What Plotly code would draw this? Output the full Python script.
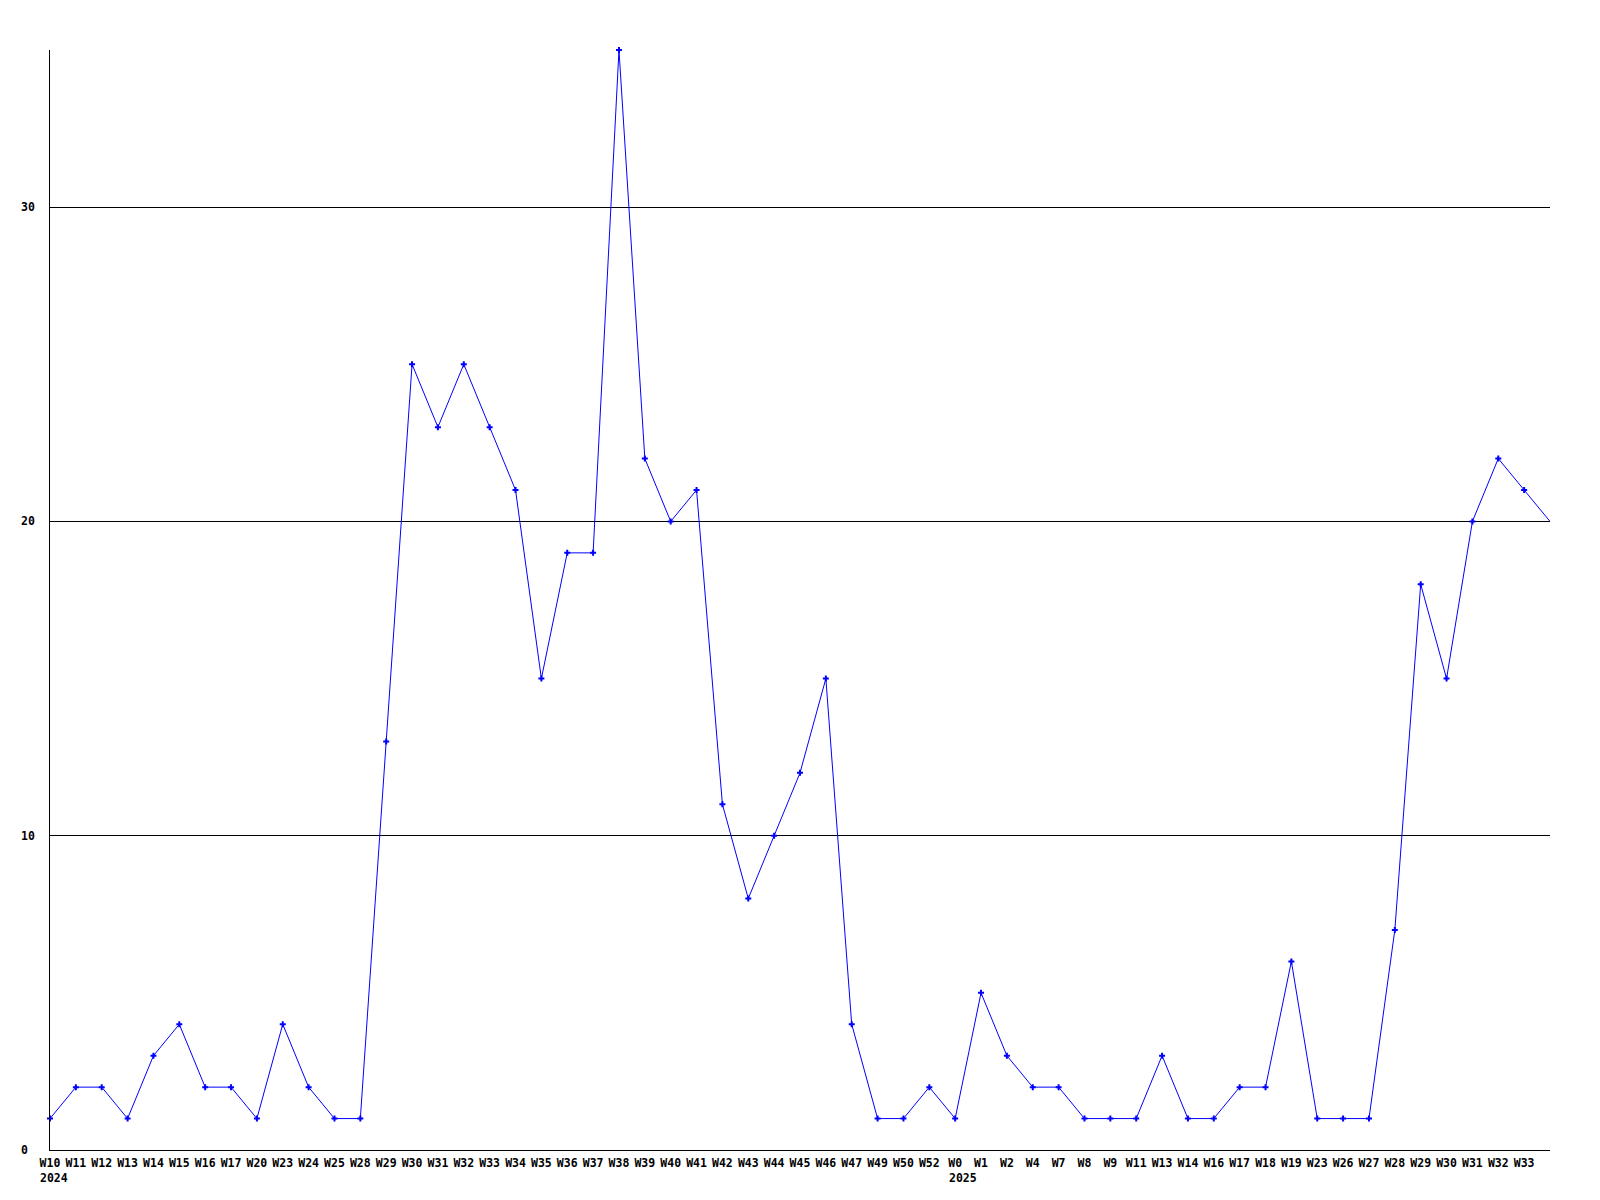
import plotly.graph_objects as go

labels_2024 = ["W10", "W11", "W12", "W13", "W14", "W15", "W16", "W17", "W20", "W23",
               "W24", "W25", "W28", "W29", "W30", "W31", "W32", "W33", "W34", "W35",
               "W36", "W37", "W38", "W39", "W40", "W41", "W42", "W43", "W44", "W45",
               "W46", "W47", "W49", "W50", "W52"]
labels_2025 = ["W0", "W1", "W2", "W4", "W7", "W8", "W9", "W11", "W13", "W14", "W16",
               "W17", "W18", "W19", "W23", "W26", "W27", "W28", "W29", "W30", "W31",
               "W32", "W33", "W34"]
values_2024 = [1, 2, 2, 1, 3, 4, 2, 2, 1, 4,
               2, 1, 1, 13, 25, 23, 25, 23, 21, 15,
               19, 19, 35, 22, 20, 21, 11, 8, 10, 12,
               15, 4, 1, 1, 2]
values_2025 = [1, 5, 3, 2, 2, 1, 1, 1, 3, 1, 1,
               2, 2, 6, 1, 1, 1, 7, 18, 15, 20,
               22, 21, 20]
years = ["2024", "2025"]
y_ticks = [0, 10, 20, 30]

labels = labels_2024 + labels_2025
values = values_2024 + values_2025
xs = list(range(len(values)))
# last week is not labelled (and has no marker) in the reference
shown_labels = labels[:-1]
marker_colors = ["#0000FF"] * (len(values) - 1) + ["rgba(0,0,0,0)"]

font = dict(family="DejaVu Sans Mono", size=11.5, color="black")

fig = go.Figure()
fig.add_trace(go.Scatter(
    x=xs, y=values, mode="lines+markers",
    line=dict(color="#0000FF", width=1),
    marker=dict(symbol="cross", size=5, color=marker_colors),
    cliponaxis=False, hoverinfo="x+y",
))

annotations = []
for yv in y_ticks:
    annotations.append(dict(
        x=0, xref="paper", y=yv, yref="y", text="<b>%d</b>" % yv,
        showarrow=False, xanchor="left", yanchor="middle", xshift=-31,
        font=font,
    ))
year_pos = [0, len(labels_2024)]
year_labels = [labels_2024[0], labels_2025[0]]
for yr, pos, lab in zip(years, year_pos, year_labels):
    annotations.append(dict(
        x=pos, xref="x", y=0, yref="paper", text="<b>%s</b>" % yr,
        showarrow=False, xanchor="left", yanchor="top",
        xshift=-len(lab) * 3.6 - 1, yshift=-19, font=font,
    ))

fig.update_layout(
    width=1584, height=1184,
    margin=dict(l=42, r=42, t=42, b=42),
    paper_bgcolor="white", plot_bgcolor="white",
    showlegend=False,
    font=font,
    xaxis=dict(
        range=[0, len(values) - 1],
        tickmode="array", tickvals=xs[:-1],
        ticktext=["<b>%s</b>" % t for t in shown_labels],
        showgrid=False, zeroline=False,
        showline=True, linecolor="black", linewidth=1,
        ticks="", tickfont=font, ticklabelstandoff=2,
    ),
    yaxis=dict(
        range=[0, 35],
        tickmode="array", tickvals=[10, 20, 30],
        showticklabels=False,
        showgrid=True, gridcolor="black", gridwidth=1,
        zeroline=False,
        showline=True, linecolor="black", linewidth=1,
        ticks="",
    ),
    annotations=annotations,
)

fig.write_html("out.html")
